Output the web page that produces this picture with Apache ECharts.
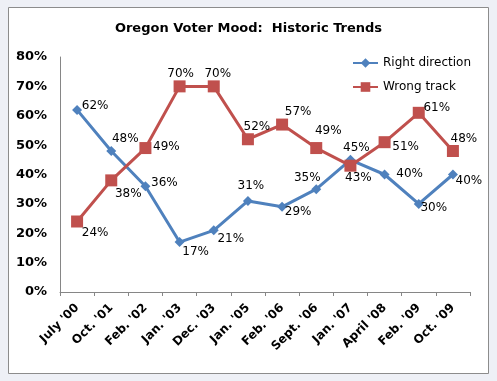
<!DOCTYPE html>
<html><head><meta charset="utf-8">
<script src="https://cdn.jsdelivr.net/npm/echarts@6/dist/echarts.min.js"></script>
<style>html,body{margin:0;padding:0;background:#eef0f6;}#c{width:497px;height:381px;}</style>
</head><body><div id="c"></div>
<script>
var categories = ["July '00","Oct. '01","Feb. '02","Jan. '03","Dec. '03","Jan. '05","Feb. '06","Sept. '06","Jan. '07","April '08","Feb. '09","Oct. '09"];
var rightDirection = [62,48,36,17,21,31,29,35,45,40,30,40];
var wrongTrack = [24,38,49,70,70,52,57,49,43,51,61,48];
var yTicks = [0,10,20,30,40,50,60,70,80];

// label offsets (style only)
var rdOffsets = [[18,-4],[14,-12],[19,-3],[16,10],[17,9],[3,-15],[16,5],[-9,-11],[6,-12],[25,-1],[15,4],[16,6]];
var wtOffsets = [[18,11],[17,13],[21,-1],[1,-13],[4,-13],[9,-12],[16,-13],[12,-17],[8,12],[21,5],[18,-5],[11,-12]];

function build(vals, offs){
  return vals.map(function(v,i){
    return {value:v, label:{offset:offs[i]}};
  });
}
var chart = echarts.init(document.getElementById('c'));
chart.setOption({
  backgroundColor:'#eef0f6',
  animation:false,
  graphic:[{type:'rect',shape:{x:8.5,y:7.5,width:480,height:366},style:{fill:'#fff',stroke:'#8c8c8c',lineWidth:1},z:-10}],
  title:{text:'Oregon Voter Mood:  Historic Trends',left:'center',top:17,
    textStyle:{fontFamily:'DejaVu Sans',fontWeight:'bold',fontSize:13,color:'#000'}},
  legend:{orient:'vertical',left:347,top:52,itemWidth:25,itemHeight:12,itemGap:12,
    textStyle:{fontFamily:'DejaVu Sans',fontSize:12,color:'#000'},
    data:['Right direction','Wrong track']},
  grid:{left:60,right:27,top:57,bottom:89},
  xAxis:{type:'category',data:categories,boundaryGap:true,
    axisLine:{lineStyle:{color:'#868686'}},
    axisTick:{show:true,length:4,lineStyle:{color:'#868686'},alignWithLabel:false},
    axisLabel:{rotate:45,interval:0,fontFamily:'DejaVu Sans',fontWeight:'bold',fontSize:12,color:'#000',margin:14},
    splitLine:{show:false}},
  yAxis:{type:'value',min:0,max:80,interval:10,
    axisLine:{show:true,lineStyle:{color:'#868686'}},
    axisTick:{show:false},
    splitLine:{show:false},
    axisLabel:{formatter:function(v){return yTicks.indexOf(v)>=0? v+'%':'';},fontFamily:'DejaVu Sans',fontWeight:'bold',fontSize:13,color:'#000',margin:13}},
  series:[
    {name:'Right direction',type:'line',data:build(rightDirection,rdOffsets),
     symbol:'diamond',symbolSize:10,lineStyle:{color:'#4f81bd',width:3},itemStyle:{color:'#4f81bd'},
     label:{show:true,position:'inside',formatter:'{c}%',fontFamily:'DejaVu Sans',fontSize:12,color:'#000'}},
    {name:'Wrong track',type:'line',data:build(wrongTrack,wtOffsets),
     symbol:'rect',symbolSize:12,lineStyle:{color:'#c0504d',width:3},itemStyle:{color:'#c0504d'},
     label:{show:true,position:'inside',formatter:'{c}%',fontFamily:'DejaVu Sans',fontSize:12,color:'#000'}}
  ]
});
</script></body></html>
